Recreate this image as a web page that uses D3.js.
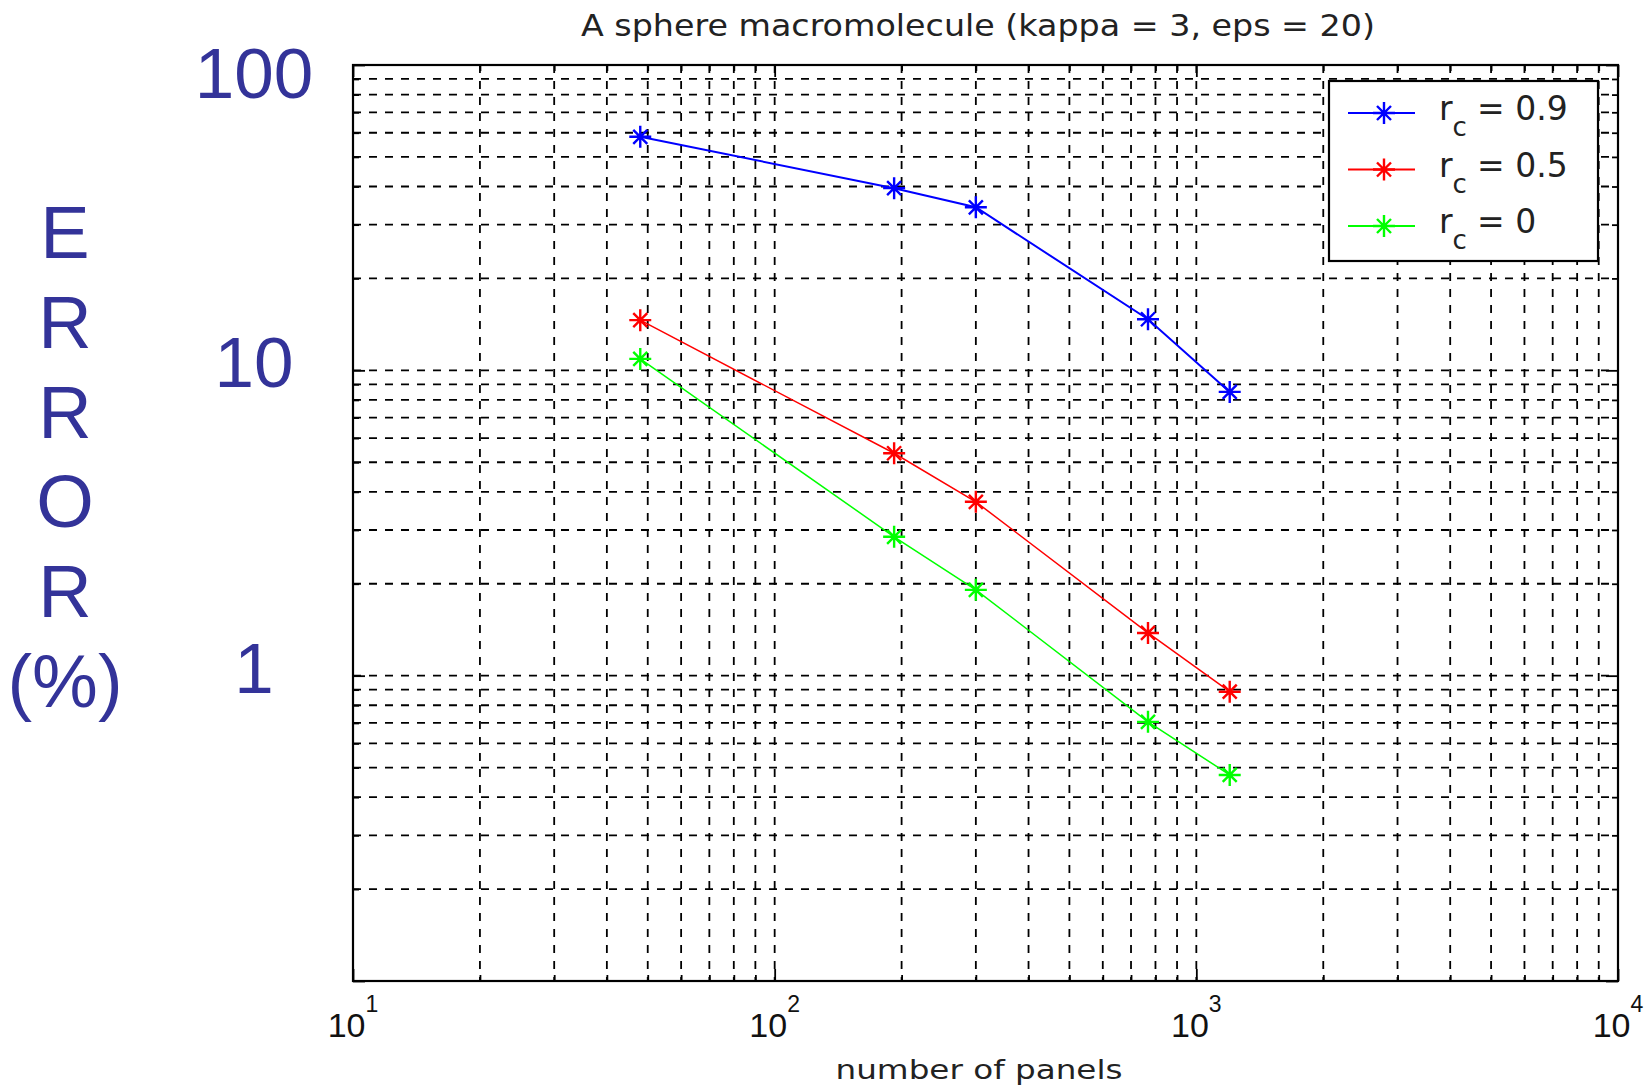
<!DOCTYPE html>
<meta charset="utf-8" />
<script src="https://d3js.org/d3.v7.min.js"></script>
<style>
    body { margin: 0; background: #fff; }
</style>
<div id="chart"></div>
<script>

    // data
    const panels = [48, 192, 300, 768, 1200];
    const seriesNames = ["0.9", "0.5", "0"];
    const seriesColors = ["#0000ff", "#ff0000", "#00ff00"];
    const errRc09 = [58.2, 39.5, 34.2, 14.7, 8.5];
    const errRc05 = [14.6, 5.35, 3.71, 1.38, 0.886];
    const errRc0 = [10.9, 2.85, 1.91, 0.706, 0.473];
    const yTickLabels = ["1", "10", "100"];
    const xTickExp = [1, 2, 3, 4];

    const series = [errRc09, errRc05, errRc0];

    const W = 1651, H = 1090;
    const margin = { top: 65, right: 33, bottom: 109, left: 353 };

    const svg = d3.select("#chart").append("svg")
        .attr("width", W)
        .attr("height", H);

    const x = d3.scaleLog().domain([10, 10000]).range([margin.left, W - margin.right]);
    const y = d3.scaleLog().domain([0.1, 100]).range([H - margin.bottom, margin.top]);

    // minor + major values per decade
    function logValues(lo, hi) {
        const out = [];
        for (let e = Math.log10(lo); e < Math.log10(hi); e++) {
            for (let k = 1; k <= 9; k++) out.push(k * Math.pow(10, e));
        }
        out.push(hi);
        return out.map(v => +v.toPrecision(6));
    }
    const xAll = logValues(10, 10000);
    const yAll = logValues(0.1, 100);
    const isMajor = v => Math.abs(Math.log10(v) - Math.round(Math.log10(v))) < 1e-9;

    // dashed grid
    const grid = svg.append("g")
        .attr("stroke", "#000")
        .attr("stroke-width", 1.8)
        .attr("stroke-dasharray", "8,8");
    grid.selectAll(".vg")
        .data(xAll.filter(v => v > 10 && v < 10000))
        .join("line")
        .attr("x1", d => x(d)).attr("x2", d => x(d))
        .attr("y1", y(100)).attr("y2", y(0.1));
    grid.selectAll(".hg")
        .data(yAll.filter(v => v > 0.1 && v < 100))
        .join("line")
        .attr("y1", d => y(d)).attr("y2", d => y(d))
        .attr("x1", x(10)).attr("x2", x(10000));

    // inward ticks on all four sides
    const xMinor = xAll.filter(v => !isMajor(v));
    const xMajor = xAll.filter(isMajor);
    const yMinor = yAll.filter(v => !isMajor(v));
    const yMajor = yAll.filter(isMajor);

    function drawAxis(axisFn, scale, values, size, transform) {
        const g = svg.append("g")
            .attr("transform", transform)
            .call(axisFn(scale).tickValues(values).tickSize(-size).tickFormat(""));
        g.select(".domain").remove();
        g.selectAll(".tick line").attr("stroke", "#000").attr("stroke-width", 1.8);
    }
    const atBottom = `translate(0,${y(0.1)})`, atTop = `translate(0,${y(100)})`;
    const atLeft = `translate(${x(10)},0)`, atRight = `translate(${x(10000)},0)`;
    drawAxis(d3.axisBottom, x, xMinor, 6, atBottom);
    drawAxis(d3.axisBottom, x, xMajor, 12, atBottom);
    drawAxis(d3.axisTop, x, xMinor, 6, atTop);
    drawAxis(d3.axisTop, x, xMajor, 12, atTop);
    drawAxis(d3.axisLeft, y, yMinor, 6, atLeft);
    drawAxis(d3.axisLeft, y, yMajor, 12, atLeft);
    drawAxis(d3.axisRight, y, yMinor, 6, atRight);
    drawAxis(d3.axisRight, y, yMajor, 12, atRight);

    // box
    svg.append("rect")
        .attr("x", x(10)).attr("y", y(100))
        .attr("width", x(10000) - x(10))
        .attr("height", y(0.1) - y(100))
        .attr("fill", "none")
        .attr("stroke", "#000")
        .attr("stroke-width", 2.2);

    // series
    const asterisk = "M0,-11V11M-11,0H11M-7,-7L7,7M-7,7L7,-7";
    const line = d3.line().x(d => x(d[0])).y(d => y(d[1]));

    series.forEach(function (vals, i) {
        const pts = panels.map((p, j) => [p, vals[j]]);
        svg.append("path")
            .datum(pts)
            .attr("d", line)
            .attr("fill", "none")
            .attr("stroke", seriesColors[i])
            .attr("stroke-width", i === 0 ? 2 : 1.5);
        svg.selectAll(".m" + i)
            .data(pts)
            .join("path")
            .attr("transform", d => `translate(${x(d[0])},${y(d[1])})`)
            .attr("d", asterisk)
            .attr("fill", "none")
            .attr("stroke", seriesColors[i])
            .attr("stroke-width", 2.4);
    });

    // x tick labels 10^n
    const xl = svg.append("g")
        .attr("font-family", "Liberation Sans, Arial, sans-serif")
        .attr("fill", "#111");
    xTickExp.forEach(function (e) {
        const t = xl.append("text")
            .attr("x", x(Math.pow(10, e)))
            .attr("y", 1037)
            .attr("text-anchor", "middle")
            .attr("font-size", 34);
        t.append("tspan").text("10");
        t.append("tspan").attr("dy", -25).attr("font-size", 23).text(e);
    });

    // y tick labels
    svg.append("g")
        .selectAll("text")
        .data(yTickLabels)
        .join("text")
        .attr("x", 254)
        .attr("y", d => y(+d) + (d === "100" ? 33 : 17))
        .attr("text-anchor", "middle")
        .attr("font-family", "Liberation Sans, Arial, sans-serif")
        .attr("font-size", 71)
        .attr("fill", "#333399")
        .text(d => d);

    // stacked y title
    const yTitle = svg.append("text")
        .attr("text-anchor", "middle")
        .attr("font-family", "Liberation Sans, Arial, sans-serif")
        .attr("font-size", 74)
        .attr("fill", "#333399");
    ["E", "R", "R", "O", "R", "(%)"].forEach(function (c, i) {
        yTitle.append("tspan")
            .attr("x", 65)
            .attr("y", 258 + i * 89.8)
            .text(c);
    });

    // title and x label
    svg.append("text")
        .attr("x", 978)
        .attr("y", 36)
        .attr("text-anchor", "middle")
        .attr("font-family", "DejaVu Sans, sans-serif")
        .attr("font-size", 31)
        .attr("fill", "#222")
        .attr("textLength", 794)
        .attr("lengthAdjust", "spacingAndGlyphs")
        .text("A sphere macromolecule (kappa = 3, eps = 20)");

    svg.append("text")
        .attr("x", 979)
        .attr("y", 1079)
        .attr("text-anchor", "middle")
        .attr("font-family", "DejaVu Sans, sans-serif")
        .attr("font-size", 26)
        .attr("fill", "#222")
        .attr("textLength", 287)
        .attr("lengthAdjust", "spacingAndGlyphs")
        .text("number of panels");

    // legend
    const lg = svg.append("g").attr("transform", "translate(1329,81)");
    lg.append("rect")
        .attr("width", 269)
        .attr("height", 180)
        .attr("fill", "#fff")
        .attr("stroke", "#000")
        .attr("stroke-width", 2.2);
    seriesNames.forEach(function (name, i) {
        const cy = 32 + i * 56.5;
        lg.append("line")
            .attr("x1", 19).attr("x2", 86)
            .attr("y1", cy).attr("y2", cy)
            .attr("stroke", seriesColors[i])
            .attr("stroke-width", 2);
        lg.append("path")
            .attr("transform", `translate(55,${cy})`)
            .attr("d", asterisk)
            .attr("fill", "none")
            .attr("stroke", seriesColors[i])
            .attr("stroke-width", 2.4);
        const t = lg.append("text")
            .attr("x", 110)
            .attr("y", cy + 7)
            .attr("font-family", "DejaVu Sans, sans-serif")
            .attr("font-size", 33)
            .attr("fill", "#222");
        t.append("tspan").text("r");
        t.append("tspan").attr("dy", 16).attr("font-size", 26).text("c");
        t.append("tspan").attr("x", 148).attr("dy", -16).text("= " + name);
    });

</script>
